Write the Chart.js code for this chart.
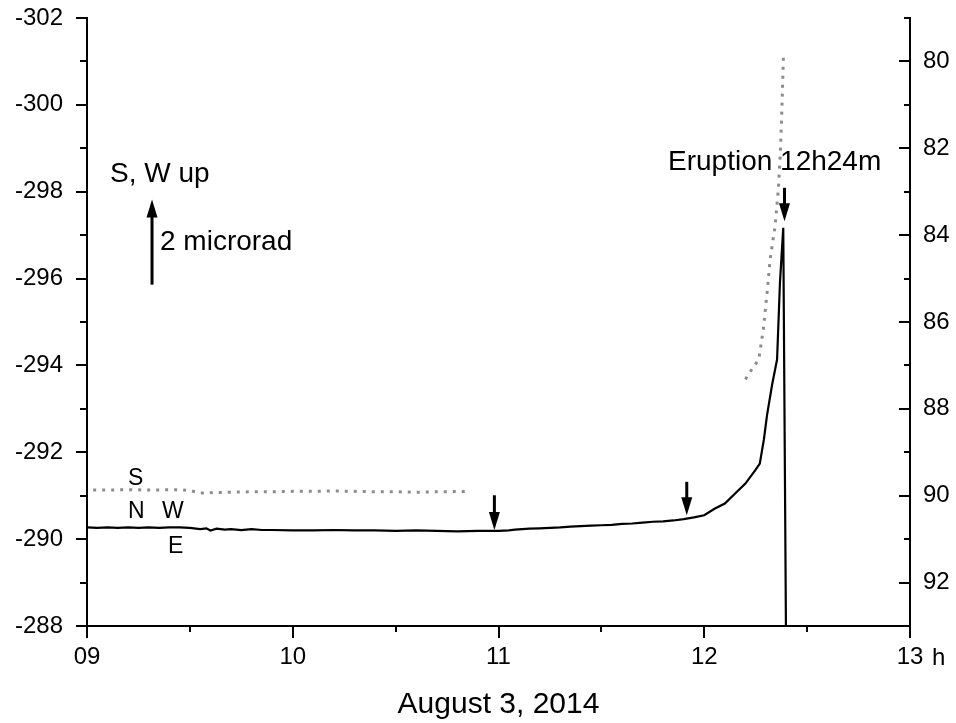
<!DOCTYPE html>
<html>
<head>
<meta charset="utf-8">
<script src="https://cdn.jsdelivr.net/npm/chart.js@4.4.1/dist/chart.umd.min.js"></script>
<style>
  html, body { margin: 0; padding: 0; background: #fff; }
  canvas { display: block; }
</style>
</head>
<body>
<canvas id="tilt-chart" width="956" height="723"></canvas>
<script>
// hours of August 3, 2014
const ewHours = [9.00, 9.05, 9.10, 9.15, 9.20, 9.25, 9.30, 9.35, 9.40, 9.45, 9.50, 9.55, 9.58, 9.60, 9.63, 9.67,
    9.70, 9.75, 9.80, 9.85, 9.90, 10.0, 10.1, 10.2, 10.3, 10.4, 10.5, 10.6, 10.7, 10.8, 10.9, 11.0, 11.05, 11.08,
    11.15, 11.2, 11.25, 11.3, 11.35, 11.4, 11.45, 11.5, 11.55, 11.6, 11.65, 11.7, 11.75, 11.8, 11.85, 11.9, 11.95,
    12.0, 12.05, 12.1, 12.15, 12.2, 12.25, 12.27, 12.29, 12.305, 12.33, 12.354, 12.368, 12.384, 12.397];
// W-E tilt (left axis)
const ewTilt = [-290.27, -290.26, -290.27, -290.26, -290.27, -290.26, -290.27, -290.26, -290.27, -290.27, -290.26,
    -290.23, -290.25, -290.20, -290.24, -290.22, -290.23, -290.21, -290.23, -290.21, -290.21, -290.20, -290.20,
    -290.21, -290.20, -290.20, -290.19, -290.20, -290.19, -290.18, -290.19, -290.19, -290.20, -290.22, -290.24,
    -290.25, -290.26, -290.27, -290.29, -290.30, -290.31, -290.32, -290.33, -290.35, -290.36, -290.38, -290.40,
    -290.41, -290.43, -290.46, -290.50, -290.55, -290.70, -290.82, -291.05, -291.28, -291.60, -291.74, -292.30,
    -292.85, -293.56, -294.14, -295.91, -297.17, -288.0];

// N-S tilt (right axis), null = no record
const nsHours = [9.03, 9.1, 9.2, 9.3, 9.45, 9.5, 9.55, 9.6, 9.7, 9.8, 9.9, 10.0, 10.1, 10.2, 10.3, 10.4, 10.5,
    10.6, 10.7, 10.85, 11.5, 12.2, 12.23, 12.265, 12.287, 12.307, 12.32, 12.344, 12.36, 12.37, 12.378, 12.385];
const nsTilt = [89.87, 89.87, 89.86, 89.87, 89.86, 89.88, 89.94, 89.93, 89.92, 89.91, 89.91, 89.90, 89.90, 89.89,
    89.90, 89.91, 89.91, 89.92, 89.91, 89.90, null, 87.32, 87.10, 86.86, 86.17, 85.25, 84.56, 83.80, 82.95, 82.10,
    81.00, 79.85];

// marker arrows [hour, from, to] in left axis units
const markArrows = [[10.98, -291.01, -290.21], [11.915, -291.32, -290.55], [12.39, -298.09, -297.32]];
const scaleArrow = [9.316, -295.86, -297.82];

const FONT = '"Liberation Sans", Arial, sans-serif';

const overlay = {
    id: 'overlay',
    afterDraw(chart) {
        const {ctx, chartArea: area, scales: {x, y, y2}} = chart;
        ctx.save();
        ctx.strokeStyle = '#000';
        ctx.fillStyle = '#000';
        ctx.lineWidth = 2;
        const line = (x1, y1, x2, y2p) => {
            ctx.beginPath(); ctx.moveTo(x1, y1); ctx.lineTo(x2, y2p); ctx.stroke();
        };
        // tick marks
        for (let v = -302; v <= -288; v++) {
            const py = Math.round(y.getPixelForValue(v));
            line(area.left - (v % 2 === 0 ? 11 : 7), py, area.left, py);
        }
        for (let v = 79; v <= 93; v++) {
            const py = Math.round(y2.getPixelForValue(v));
            line(area.right - (v % 2 === 0 ? 11 : 6), py, area.right, py);
        }
        for (let h = 9; h <= 13; h += 0.5) {
            const px = Math.round(x.getPixelForValue(h));
            line(px, area.bottom, px, area.bottom + (h % 1 === 0 ? 12 : 6));
        }

        // arrows
        const arrow = (hx, from, to) => {
            const px = x.getPixelForValue(hx);
            const p1 = y.getPixelForValue(from);
            const p2 = y.getPixelForValue(to);
            const dir = p2 > p1 ? 1 : -1;
            const head = 18;
            ctx.lineWidth = 3;
            line(px, p1, px, p2 - dir * head * 0.7);
            ctx.beginPath();
            ctx.moveTo(px, p2);
            ctx.lineTo(px - 5.5, p2 - dir * head);
            ctx.lineTo(px + 5.5, p2 - dir * head);
            ctx.closePath();
            ctx.fill();
        };
        markArrows.forEach(a => arrow(a[0], a[1], a[2]));
        arrow(scaleArrow[0], scaleArrow[1], scaleArrow[2]);

        // text
        ctx.textBaseline = 'alphabetic';
        ctx.textAlign = 'left';
        ctx.font = '28px ' + FONT;
        ctx.fillText('S, W up', 110, 182);
        ctx.fillText('2 microrad', 160, 250);
        ctx.fillText('Eruption 12h24m', 668, 170);
        ctx.font = '23px ' + FONT;
        ctx.fillText('S', 128, 485);
        ctx.fillText('N', 128, 518);
        ctx.fillText('W', 162, 518);
        ctx.fillText('E', 168, 553);
        ctx.font = '24px ' + FONT;
        ctx.fillText('h', 932, 665);
        ctx.restore();
    }
};

// fixed axis boxes so the plot area matches the figure
const fixBox = (w, h) => s => {
    if (w) s.width = w;
    if (h) s.height = h;
    s.paddingTop = 0;
    s.paddingBottom = 0;
    s.paddingLeft = 0;
    s.paddingRight = 0;
};

new Chart(document.getElementById('tilt-chart'), {
    type: 'line',
    data: {
        datasets: [
            {
                label: 'W-E',
                data: ewHours.map((h, i) => ({x: h, y: ewTilt[i]})),
                yAxisID: 'y',
                borderColor: '#000',
                borderWidth: 2.2,
                pointRadius: 0,
                tension: 0,
            },
            {
                label: 'N-S',
                data: nsHours.map((h, i) => ({x: h, y: nsTilt[i]})),
                yAxisID: 'y2',
                borderColor: '#8c8c8c',
                borderWidth: 3,
                borderDash: [3, 6],
                borderCapStyle: 'butt',
                pointRadius: 0,
                tension: 0,
                spanGaps: false,
            }
        ]
    },
    options: {
        responsive: false,
        animation: false,
        layout: {padding: {top: 18, left: 0, right: 0, bottom: 0}},
        plugins: {
            legend: {display: false},
            tooltip: {enabled: false},
        },
        scales: {
            x: {
                type: 'linear',
                min: 9,
                max: 13,
                afterFit: fixBox(0, 97),
                grid: {drawOnChartArea: false, drawTicks: false},
                border: {display: true, color: '#000', width: 2},
                ticks: {
                    stepSize: 1,
                    autoSkip: false,
                    maxRotation: 0,
                    padding: 17,
                    color: '#000',
                    font: {family: FONT, size: 24},
                    callback: v => (v === 9 ? '09' : String(v)),
                },
                title: {
                    display: true,
                    text: 'August 3, 2014',
                    color: '#000',
                    font: {family: FONT, size: 30},
                    padding: 0,
                },
            },
            y: {
                position: 'left',
                reverse: true,
                min: -302,
                max: -288,
                afterFit: fixBox(87, 0),
                grid: {drawOnChartArea: false, drawTicks: false},
                border: {display: true, color: '#000', width: 2},
                ticks: {
                    stepSize: 1,
                    autoSkip: false,
                    padding: 24,
                    color: '#000',
                    font: {family: FONT, size: 24},
                    callback: v => (v % 2 === 0 ? String(v) : ''),
                },
            },
            y2: {
                position: 'right',
                reverse: true,
                min: 79,
                max: 93,
                afterFit: fixBox(46, 0),
                grid: {drawOnChartArea: false, drawTicks: false},
                border: {display: true, color: '#000', width: 2},
                ticks: {
                    stepSize: 1,
                    autoSkip: false,
                    padding: 13,
                    color: '#000',
                    font: {family: FONT, size: 24},
                    callback: v => (v % 2 === 0 ? String(v) : ''),
                },
            },
        },
    },
    plugins: [overlay],
});
</script>
</body>
</html>
